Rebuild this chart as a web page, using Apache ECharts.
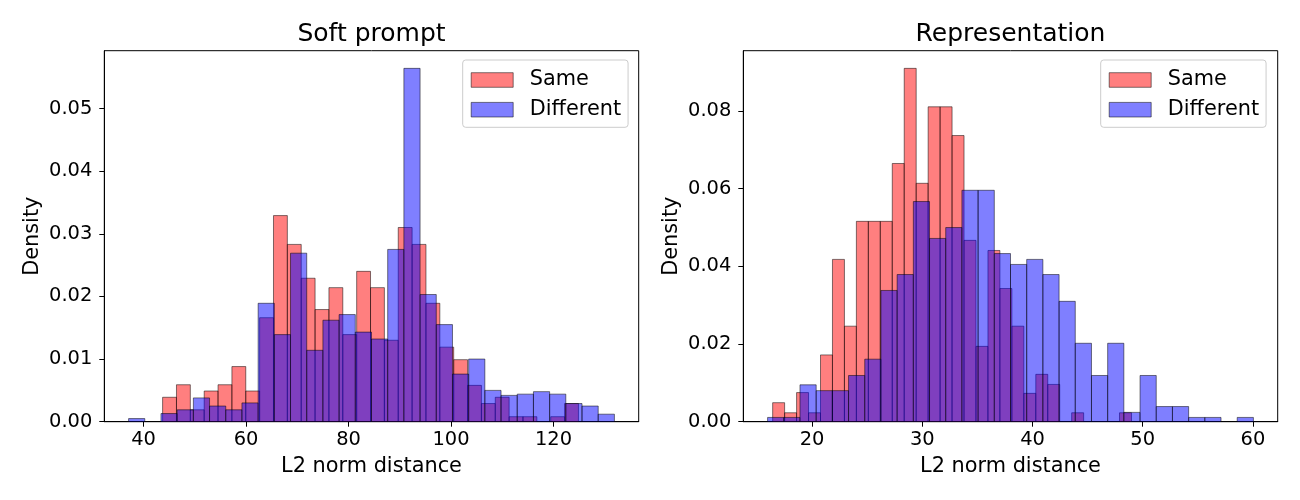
<!DOCTYPE html>
<html><head><meta charset="utf-8">
<script src="https://cdn.jsdelivr.net/npm/echarts@6/dist/echarts.min.js"></script>
<style>html,body{margin:0;padding:0;background:#fff}#c{width:1300px;height:500px}</style>
</head><body><div id="c"></div>
<script>
const FONT = 'DejaVu Sans';
const seriesNames = ['Same', 'Different'];
const panelTitles = ['Soft prompt', 'Representation'];
const xAxisName = 'L2 norm distance';
const yAxisName = 'Density';

// Soft prompt panel: histogram range [first edge, last edge] and 30 bin densities
const softSameRange = [43.71, 124.88];
const softSameDensity = [0.0039, 0.0059, 0.0019, 0.0049, 0.0059, 0.0088, 0.0049, 0.0166, 0.0329, 0.0283,
  0.0229, 0.0179, 0.0214, 0.0139, 0.0240, 0.0214, 0.0130, 0.0310, 0.0283, 0.0189,
  0.0119, 0.0099, 0.0058, 0.0029, 0.0039, 0.0008, 0.0008, 0, 0.0008, 0.0029];
const softDiffRange = [37.07, 131.90];
const softDiffDensity = [0.0005, 0, 0.0013, 0.0019, 0.0038, 0.0025, 0.0019, 0.0030, 0.0189, 0.0139,
  0.0269, 0.0114, 0.0162, 0.0171, 0.0143, 0.0132, 0.0275, 0.0564, 0.0203, 0.0155,
  0.0076, 0.0100, 0.0050, 0.0042, 0.0044, 0.0048, 0.0044, 0.0029, 0.0025, 0.0012];

// Representation panel
const reprSameRange = [16.43, 48.98];
const reprSameDensity = [0.0049, 0.0023, 0.0075, 0.0023, 0.0172, 0.0418, 0.0246, 0.0516, 0.0516, 0.0516,
  0.0665, 0.0910, 0.0614, 0.0811, 0.0811, 0.0737, 0.0467, 0.0194, 0.0441, 0.0343,
  0.0246, 0.0073, 0.0122, 0.0096, 0, 0.0023, 0, 0, 0, 0.0023];
const reprDiffRange = [15.97, 60.04];
const reprDiffDensity = [0.0011, 0.0011, 0.0095, 0.0080, 0.0080, 0.0119, 0.0161, 0.0338, 0.0379, 0.0567,
  0.0472, 0.0500, 0.0596, 0.0596, 0.0433, 0.0405, 0.0418, 0.0379, 0.0310, 0.0202,
  0.0119, 0.0202, 0.0024, 0.0119, 0.0039, 0.0039, 0.0011, 0.0011, 0, 0.0011];

const softXTicks = [40, 60, 80, 100, 120];
const softYTicks = [0, 0.01, 0.02, 0.03, 0.04, 0.05];
const reprXTicks = [20, 30, 40, 50, 60];
const reprYTicks = [0, 0.02, 0.04, 0.06, 0.08];

const fills = ['rgba(255,0,0,0.5)', 'rgba(0,0,255,0.5)'];
const edge = 'rgba(0,0,0,0.5)';

function toBins(range, dens) {
  const n = dens.length, w = (range[1] - range[0]) / n;
  return dens.map((d, i) => [range[0] + i * w, range[0] + (i + 1) * w, d]);
}
function extentX(ranges) {
  const lo = Math.min(...ranges.map(r => r[0])), hi = Math.max(...ranges.map(r => r[1]));
  const m = (hi - lo) * 0.05;
  return [lo - m, hi + m];
}
function makeRender(idx) {
  return function (params, api) {
    const p0 = api.coord([api.value(0), api.value(2)]);
    const p1 = api.coord([api.value(1), 0]);
    return {
      type: 'rect',
      shape: { x: p0[0], y: p0[1], width: p1[0] - p0[0], height: p1[1] - p0[1] },
      style: { fill: fills[idx], stroke: edge, lineWidth: 1 }
    };
  };
}

const panels = [
  { same: toBins(softSameRange, softSameDensity), diff: toBins(softDiffRange, softDiffDensity),
    xr: extentX([softSameRange, softDiffRange]),
    ymax: 1.05 * Math.max(...softSameDensity, ...softDiffDensity),
    xt: softXTicks, yt: softYTicks, left: 104.3, legendLeft: 462.7 },
  { same: toBins(reprSameRange, reprSameDensity), diff: toBins(reprDiffRange, reprDiffDensity),
    xr: extentX([reprSameRange, reprDiffRange]),
    ymax: 1.05 * Math.max(...reprSameDensity, ...reprDiffDensity),
    xt: reprXTicks, yt: reprYTicks, left: 743.3, legendLeft: 1100.7 }
];
const GW = 534.4, GT = 50.7, GH = 371;

const tickTxt = { fontFamily: FONT, fontSize: 19.44, color: '#000' };
const labelTxt = { fontFamily: FONT, fontSize: 20.83, color: '#000' };
const option = {
  animation: false,
  backgroundColor: '#fff',
  title: panels.map((p, i) => ({
    text: panelTitles[i], left: p.left + GW / 2, top: 22, textAlign: 'center', padding: 0,
    textStyle: { fontFamily: FONT, fontSize: 25, fontWeight: 'normal', color: '#000' }
  })),
  legend: panels.map((p, i) => ({
    orient: 'vertical',
    left: p.legendLeft, top: 60,
    data: seriesNames.map((n, k) => ({ name: n, icon: 'rect',
      itemStyle: { color: fills[k], borderColor: edge, borderWidth: 1 } })),
    itemWidth: 42, itemHeight: 14.6, itemGap: 5.7,
    backgroundColor: 'rgba(255,255,255,0.8)', borderColor: '#cccccc', borderWidth: 1, borderRadius: 3,
    padding: [8, 7, 5.6, 8],
    textStyle: Object.assign({}, labelTxt, { lineHeight: 24, padding: [0, 0, 0, 11.6] }),
    selectedMode: false
  })),
  grid: panels.map(p => ({ left: p.left, top: GT, width: GW, height: GH, show: true,
    borderColor: '#000', borderWidth: 1, containLabel: false })),
  xAxis: panels.map((p, i) => ({
    type: 'value', gridIndex: i, min: p.xr[0], max: p.xr[1],
    name: xAxisName, nameLocation: 'middle', nameGap: 34, nameTextStyle: labelTxt,
    axisLine: { show: true, onZero: false, lineStyle: { color: '#000', width: 1 } },
    axisTick: { show: true, length: 5, customValues: p.xt, lineStyle: { color: '#000' } },
    axisLabel: Object.assign({ customValues: p.xt, margin: 9 }, tickTxt),
    splitLine: { show: false }
  })),
  yAxis: panels.map((p, i) => ({
    type: 'value', gridIndex: i, min: 0, max: p.ymax,
    name: yAxisName, nameLocation: 'middle', nameGap: 61, nameTextStyle: labelTxt,
    axisLine: { show: true, lineStyle: { color: '#000', width: 1 } },
    axisTick: { show: true, length: 5, customValues: p.yt, lineStyle: { color: '#000' } },
    axisLabel: Object.assign({ customValues: p.yt, margin: 12, formatter: v => v.toFixed(2) }, tickTxt),
    splitLine: { show: false }
  })),
  series: []
};
panels.forEach((p, i) => {
  [p.same, p.diff].forEach((data, k) => {
    option.series.push({
      type: 'custom', name: seriesNames[k], xAxisIndex: i, yAxisIndex: i,
      renderItem: makeRender(k), data: data, clip: true,
      encode: { x: [0, 1], y: 2 },
      itemStyle: { color: fills[k], borderColor: edge, borderWidth: 1 }
    });
  });
});
const chart = echarts.init(document.getElementById('c'), null, { renderer: 'canvas' });
chart.setOption(option);
</script></body></html>
